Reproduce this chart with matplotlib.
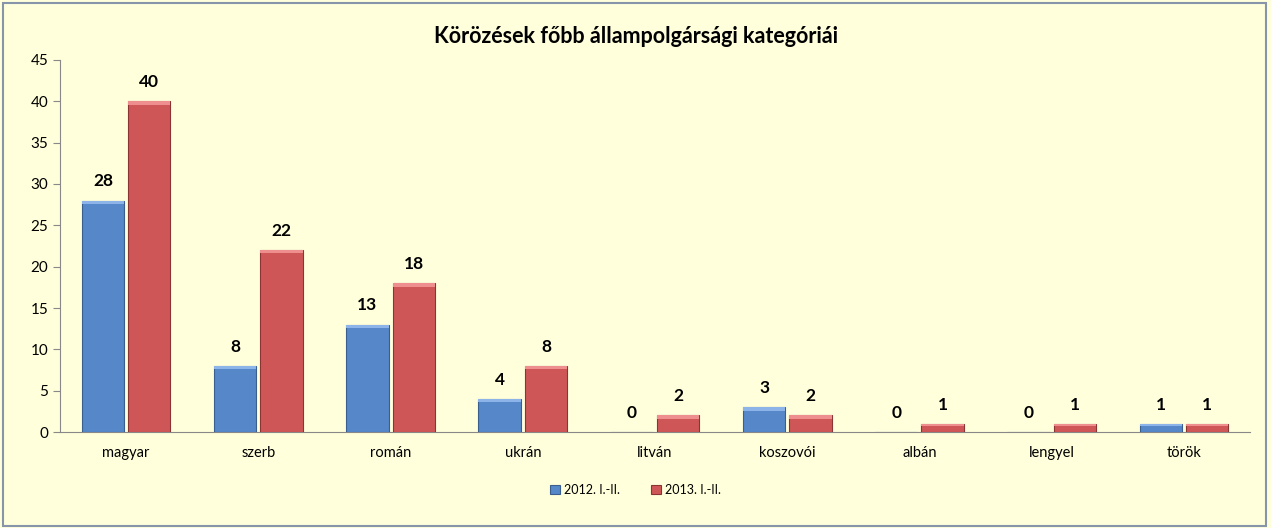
import matplotlib.pyplot as plt
from matplotlib.patches import Rectangle
import numpy as np

plt.rcParams['font.family'] = ['Lato', 'DejaVu Sans']

categories = ['magyar', 'szerb', 'román', 'ukrán', 'litván', 'koszovói', 'albán', 'lengyel', 'török']
y2012 = [28, 8, 13, 4, 0, 3, 0, 0, 1]
y2013 = [40, 22, 18, 8, 2, 2, 1, 1, 1]

bg = '#FFFFDC'
fig = plt.figure(figsize=(12.71, 5.28), dpi=100, facecolor=bg)
ax = fig.add_axes([0.0472, 0.1818, 0.9363, 0.7046], facecolor=bg)

# figure border
fig.patches.append(Rectangle((0.002, 0.003), 0.994, 0.992, transform=fig.transFigure,
                             fill=False, edgecolor='#8795AA', linewidth=1.5))

x = np.arange(len(categories))
w = 0.32
gap = 0.015
b1 = ax.bar(x - w / 2 - gap, y2012, w, color='#5587C9', edgecolor='#3A5F8F', linewidth=0.8,
            label='2012. I.-II.', zorder=3)
b2 = ax.bar(x + w / 2 + gap, y2013, w, color='#CF5656', edgecolor='#8A3434', linewidth=0.8,
            label='2013. I.-II.', zorder=3)

# simple bevel highlight on bar tops
for bars, light in ((b1, '#8DB4E8'), (b2, '#EE8E8E')):
    for r in bars:
        h = r.get_height()
        if h > 0:
            t = min(0.4, h * 0.3)
            ax.add_patch(Rectangle((r.get_x(), h - t), r.get_width(), t,
                                   color=light, zorder=4, linewidth=0))

for bars in (b1, b2):
    for r in bars:
        ax.annotate(str(int(r.get_height())), (r.get_x() + r.get_width() / 2, r.get_height()),
                    xytext=(0, 8), textcoords='offset points', ha='center', va='bottom',
                    fontsize=12.5, fontweight='bold')

ax.set_xlim(-0.5, len(categories) - 0.5)
ax.set_ylim(0, 45)
ax.set_yticks(range(0, 46, 5))
ax.set_xticks(x)
ax.set_xticklabels(categories)
ax.tick_params(axis='x', length=0, pad=10, labelsize=10.5)
ax.tick_params(axis='y', length=5, direction='out', color='#888888', labelsize=11)
for s in ('top', 'right'):
    ax.spines[s].set_visible(False)
ax.spines['left'].set_color('#888888')
ax.spines['bottom'].set_color('#888888')

fig.text(0.5, 0.93, 'Körözések főbb állampolgársági kategóriái', ha='center', va='center',
         fontsize=15.5, fontweight='bold')

fig.legend(handles=[b1, b2], loc='center', bbox_to_anchor=(0.5, 0.072), ncol=2, frameon=False,
           fontsize=9, handlelength=0.8, handleheight=0.8, columnspacing=2.5, handletextpad=0.3)

fig.savefig('out.png', dpi=100, facecolor=bg)
